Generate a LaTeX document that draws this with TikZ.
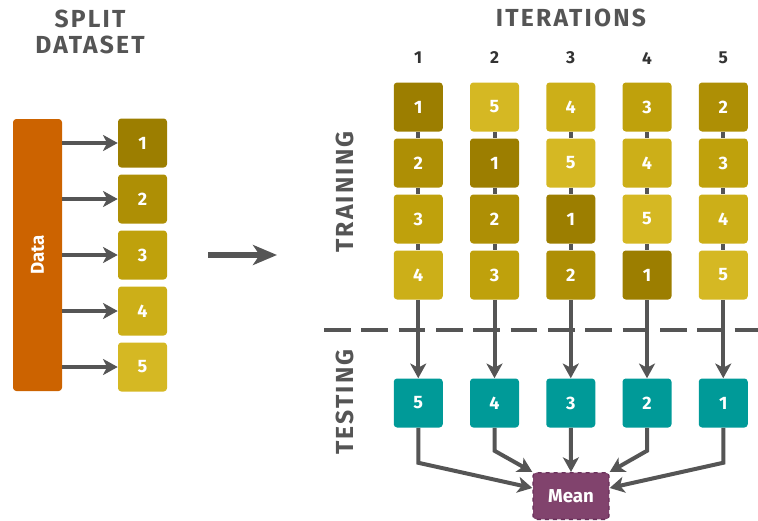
\documentclass[tikz,border=0pt]{standalone}
\usepackage{fontspec}
\setmainfont{Fira Sans}
\usetikzlibrary{arrows.meta}

\definecolor{fold1}{HTML}{9C7E00}
\definecolor{fold2}{HTML}{AE8F05}
\definecolor{fold3}{HTML}{BFA10C}
\definecolor{fold4}{HTML}{CCAF18}
\definecolor{fold5}{HTML}{D5B823}
\definecolor{datared}{HTML}{CC6300}
\definecolor{testteal}{HTML}{009A98}
\definecolor{meanpurple}{HTML}{81436D}
\definecolor{meanedge}{HTML}{69305A}
\definecolor{linkgray}{HTML}{555555}
\definecolor{headgray}{HTML}{555555}

\tikzset{
    fold/.style={rounded corners=2.5pt, minimum size=36.75pt, inner sep=0pt,
        text=white, font=\bfseries\fontsize{13.5}{15}\selectfont},
    link/.style={draw=linkgray, line width=3pt},
    tip/.style={-{Stealth[length=11pt, width=12pt, inset=3pt]}},
    heading/.style={text=headgray, align=center,
        font=\bfseries\addfontfeature{LetterSpace=9}\fontsize{18.5}{20}\selectfont},
    colnum/.style={text=black!80, font=\bfseries\fontsize{13}{15}\selectfont},
}

\begin{document}
\begin{tikzpicture}[x=0.75pt, y=-0.75pt]
    \useasboundingbox (0,0) rectangle (758,521);

    % split dataset
    \node[heading] (splithead) at (90,32) {SPLIT\\DATASET};
    \node[fill=datared, rounded corners=2.5pt, minimum width=36.75pt,
        minimum height=204pt, inner sep=0pt] (data) at (37.5,255) {};
    \node[rotate=90, text=white, font=\bfseries\fontsize{14}{16}\selectfont]
        (datalabel) at (data) {Data};

    \foreach \i in {1,...,5}
        {
            \node[fold, fill=fold\i] (split\i) at (142.5,{87+56*\i}) {\i};
            \draw[link, tip] (data.east |- split\i) -- (split\i.west);
        }

    % big arrow
    \coordinate (bigfrom) at (208,255);
    \coordinate (bigto) at (277,255);
    \draw[draw=linkgray, line width=5pt,
        -{Stealth[length=18pt, width=15pt, inset=5pt]}] (bigfrom) -- (bigto);

    % iterations
    \node[heading] (iterhead) at (571,18) {ITERATIONS};

    \foreach \c in {1,...,5}
        {
            \node[colnum] (col\c) at ({342+76.25*\c},58) {\c};

            % training folds
            \foreach \r in {1,...,4}
                {
                    \pgfmathtruncatemacro{\v}{mod(\r-\c+5,5)+1}
                    \node[fold, fill=fold\v] (train-\c-\r) at ({342+76.25*\c},{51+56*\r}) {\v};
                }

            % testing fold
            \pgfmathtruncatemacro{\t}{mod(5-\c,5)+1}
            \node[fold, fill=testteal] (test-\c) at ({342+76.25*\c},403) {\t};

            \foreach \r [evaluate=\r as \s using int(\r+1)] in {1,2,3}
                \draw[link] (train-\c-\r.south) -- (train-\c-\s.north);
            \draw[link, tip] (train-\c-4.south) -- (test-\c.north);
        }

    % separator
    \draw[draw=linkgray, line width=3.5pt, dash pattern=on 20pt off 8pt] (324,330) -- (758,330);

    \node[heading, rotate=90] (trainhead) at (345,192) {TRAINING};
    \node[heading, rotate=90] (testhead) at (345,402) {TESTING};

    % mean
    \node[fill=meanpurple, draw=meanedge, dashed, line width=1pt,
        rounded corners=2.5pt, minimum width=57pt, minimum height=35pt,
        text=white, font=\bfseries\fontsize{14}{16}\selectfont] (mean) at (571,496) {Mean};

    \draw[link, tip] (test-1.south) -- ++(0,35) -- ([yshift=6pt]mean.west);
    \draw[link, tip] (test-2.south) -- ++(0,23) -- (mean.north west);
    \draw[link, tip] (test-3.south) -- (mean.north);
    \draw[link, tip] (test-4.south) -- ++(0,23) -- (mean.north east);
    \draw[link, tip] (test-5.south) -- ++(0,35) -- ([yshift=6pt]mean.east);

\end{tikzpicture}
\end{document}
